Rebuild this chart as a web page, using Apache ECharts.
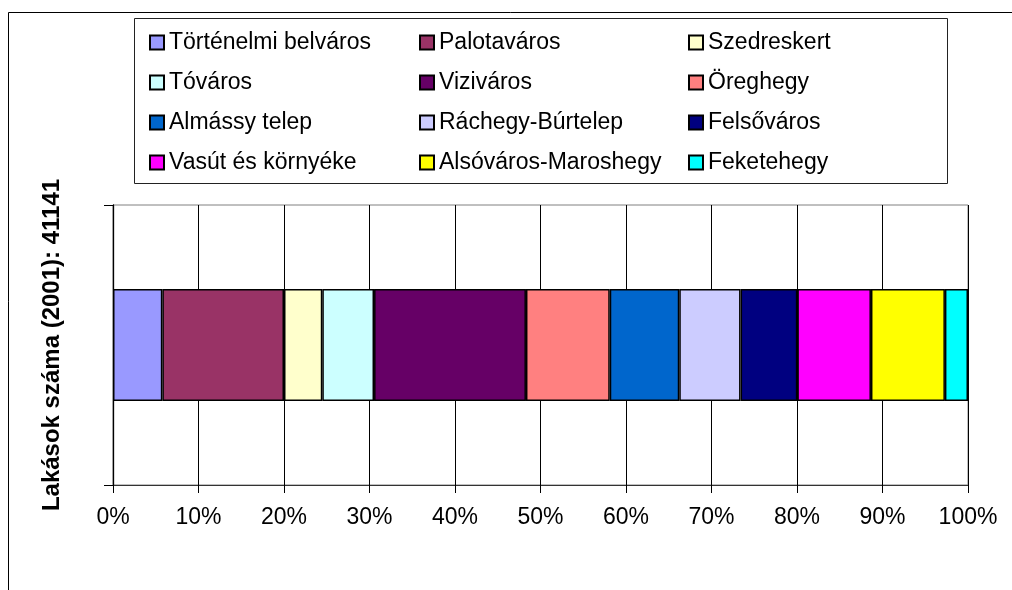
<!DOCTYPE html>
<html>
<head>
<meta charset="utf-8">
<script src="https://cdn.jsdelivr.net/npm/echarts@6/dist/echarts.min.js"></script>
<style>
  html, body { margin: 0; padding: 0; background: #fff; }
  #chart { width: 1012px; height: 590px; }
</style>
</head>
<body>
<div id="chart"></div>
<script>
  // districts, share of dwellings in % (total 41141, 2001)
  const districts = [
    'Történelmi belváros', 'Palotaváros', 'Szedreskert',
    'Tóváros', 'Viziváros', 'Öreghegy',
    'Almássy telep', 'Ráchegy-Búrtelep', 'Felsőváros',
    'Vasút és környéke', 'Alsóváros-Maroshegy', 'Feketehegy'
  ];
  const shares = [5.77, 14.23, 4.48, 6.05, 17.77, 9.8, 8.13, 7.17, 6.64, 8.61, 8.65, 2.7];
  const colors = ['#9999FF', '#993366', '#FFFFCC', '#CCFFFF', '#660066', '#FF8080',
                  '#0066CC', '#CCCCFF', '#000080', '#FF00FF', '#FFFF00', '#00FFFF'];
  const xTicks = [0, 10, 20, 30, 40, 50, 60, 70, 80, 90, 100];
  const yTitle = 'Lakások száma (2001): 41141';

  const FONT = 'Liberation Sans, Arial, sans-serif';

  let myChart = echarts.init(document.getElementById('chart'));

  // three legend columns, row-major like the original
  const legendLefts = [144, 414, 683];
  const legends = legendLefts.map((left, col) => ({
    orient: 'vertical',
    left: left,
    top: 26,
    itemWidth: 14,
    itemHeight: 14,
    itemGap: 17,
    icon: 'rect',
    selectedMode: false,
    data: districts.filter((d, i) => i % 3 === col),
    textStyle: {
      fontFamily: FONT,
      fontSize: 23,
      lineHeight: 23,
      color: '#000'
    }
  }));

  let option = {
    animation: false,
    backgroundColor: '#fff',
    textStyle: { fontFamily: FONT },
    graphic: [
      {
        type: 'rect',
        shape: { x: 8.5, y: 12.5, width: 1100, height: 700 },
        style: { fill: 'none', stroke: '#000', lineWidth: 1 },
        silent: true
      },
      {
        type: 'rect',
        shape: { x: 134.5, y: 18.5, width: 813, height: 165 },
        style: { fill: '#fff', stroke: '#222', lineWidth: 1 },
        z: -1,
        silent: true
      }
    ],
    legend: legends,
    grid: {
      left: 113,
      right: 44,
      top: 205,
      bottom: 105,
      show: true,
      borderColor: '#808080',
      borderWidth: 1
    },
    xAxis: {
      type: 'value',
      min: xTicks[0],
      max: xTicks[xTicks.length - 1],
      interval: xTicks[1] - xTicks[0],
      axisLine: { show: true, lineStyle: { color: '#333', width: 1 } },
      axisTick: { show: true, length: 8, lineStyle: { color: '#000' } },
      splitLine: { show: true, lineStyle: { color: '#000', width: 1 } },
      axisLabel: {
        formatter: '{value}%',
        fontFamily: FONT,
        fontSize: 23,
        color: '#000',
        margin: 21
      }
    },
    yAxis: {
      type: 'category',
      data: [''],
      name: yTitle,
      nameLocation: 'middle',
      nameGap: 49,
      nameRotate: 90,
      nameTextStyle: {
        fontFamily: FONT,
        fontSize: 24,
        fontWeight: 'bold',
        color: '#000'
      },
      axisLine: { show: true, lineStyle: { color: '#000', width: 1.3 } },
      axisTick: { show: true, length: 9, lineStyle: { color: '#000' } },
      axisLabel: { show: false }
    },
    series: districts.map((name, i) => ({
      name: name,
      type: 'bar',
      stack: 'total',
      barWidth: '40%',
      data: [shares[i]],
      itemStyle: {
        color: colors[i],
        borderColor: '#000',
        borderWidth: 1.5
      },
      emphasis: { disabled: true }
    }))
  };

  option && myChart.setOption(option);
</script>
</body>
</html>
